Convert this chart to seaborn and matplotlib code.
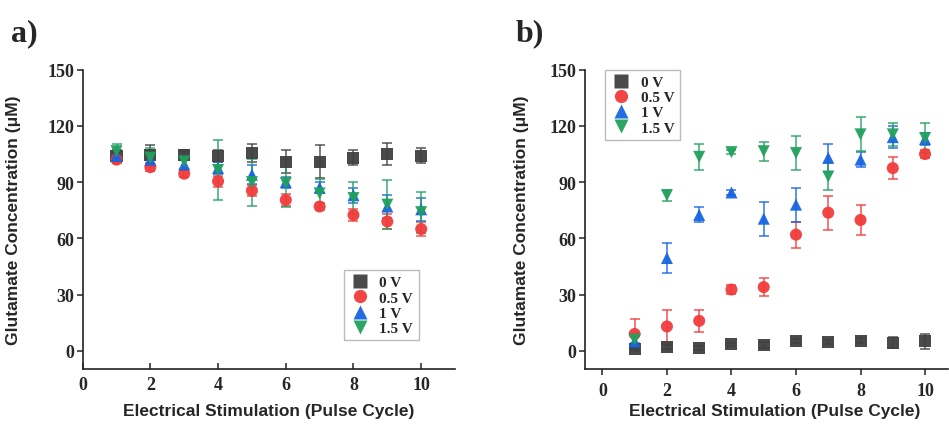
import numpy as np
import pandas as pd
import matplotlib
matplotlib.use("Agg")
import matplotlib.pyplot as plt
import seaborn as sns

# ---------------- data ----------------
cycles = [1, 2, 3, 4, 5, 6, 7, 8, 9, 10]
series = ["0 V", "0.5 V", "1 V", "1.5 V"]

# panel a
a_0V = [104, 104.5, 104.5, 104, 105.5, 101, 101, 103, 105, 104]
a_0V_err = [3, 5.5, 2.7, 3, 5, 6, 9, 4, 6, 4]
a_05V = [102, 98, 94.5, 90.5, 85.5, 80.5, 77, 72.5, 69, 65]
a_05V_err = [2, 2, 2, 3, 3, 3, 2, 3, 4, 3.5]
a_1V = [104, 102, 99.5, 97.5, 94, 90, 87, 83, 77, 75.5]
a_1V_err = [2, 3, 3, 3, 5, 3, 3, 4, 6, 6]
a_15V = [106.5, 103, 101, 96.5, 90, 89.5, 84, 81.5, 78, 74]
a_15V_err = [4, 5, 5, 16, 12.5, 13, 7.5, 8.5, 13, 11]

# panel b
b_0V = [1, 2, 1.6, 3.4, 3.2, 5.2, 4.6, 5.5, 4.3, 5.2]
b_0V_err = [1, 1, 1, 1, 1.5, 1, 1, 1.5, 3, 4]
b_05V = [9, 13, 16, 32.7, 34, 62, 73.7, 69.8, 97.5, 105]
b_05V_err = [8, 9, 6, 2.5, 5, 7, 9, 8, 6, 2]
b_1V = [5, 49.5, 72.5, 84.5, 70.5, 78, 103, 102, 114, 113]
b_1V_err = [4, 8, 4, 1.5, 9, 9, 7.5, 4, 6, 3]
b_15V = [6, 83, 103.5, 106, 106.5, 105.5, 93, 115.5, 115.5, 113.5]
b_15V_err = [2, 3, 7, 1, 5, 9, 7, 9, 6, 8]

y_ticks = [0, 30, 60, 90, 120, 150]
x_ticks = [0, 2, 4, 6, 8, 10]

colors = {"0 V": "#404040", "0.5 V": "#f23b3b", "1 V": "#1764e0", "1.5 V": "#21a15d"}
markers = {"0 V": "s", "0.5 V": "o", "1 V": "^", "1.5 V": "v"}


def make_df(vals, errs):
    rows = []
    for s, v, e in zip(series, vals, errs):
        for c, yv, ev in zip(cycles, v, e):
            rows.append({"cycle": c, "conc": yv, "err": ev, "V": s})
    return pd.DataFrame(rows)


df_a = make_df([a_0V, a_05V, a_1V, a_15V], [a_0V_err, a_05V_err, a_1V_err, a_15V_err])
df_b = make_df([b_0V, b_05V, b_1V, b_15V], [b_0V_err, b_05V_err, b_1V_err, b_15V_err])

sns.set_theme(style="white")
serif = ["Liberation Serif", "DejaVu Serif"]
plt.rcParams["font.family"] = serif
plt.rcParams["font.weight"] = "bold"
plt.rcParams["axes.labelweight"] = "bold"

fig = plt.figure(figsize=(9.49, 4.31), dpi=100)
ax_a = fig.add_axes([0.0871, 0.1415, 0.3924, 0.6945])
ax_b = fig.add_axes([0.6164, 0.1415, 0.3825, 0.6945])


def draw(ax, df, xlim, bottom_dir, leg_anchor):
    for s in series:
        d = df[df["V"] == s]
        ax.errorbar(d["cycle"], d["conc"], yerr=d["err"], fmt="none",
                    ecolor=colors[s], alpha=0.75, elinewidth=1.3,
                    capsize=3.5, capthick=1.3, zorder=2)
    sns.scatterplot(data=df, x="cycle", y="conc", hue="V", style="V",
                    palette=colors, markers=markers, hue_order=series,
                    style_order=series, s=75, edgecolor="none",
                    alpha=0.95, ax=ax, zorder=3, legend=True)
    ax.set_xlim(*xlim)
    ax.set_ylim(-9.7, 150)
    ax.set_xticks(x_ticks)
    ax.set_yticks(y_ticks)
    for sp in ["top", "right"]:
        ax.spines[sp].set_visible(False)
    for sp in ["left", "bottom"]:
        ax.spines[sp].set_color("#222222")
        ax.spines[sp].set_linewidth(1.2)
    ax.tick_params(axis="y", direction="out", length=4, width=1.1,
                   labelsize=13, color="#222222", left=True, pad=2)
    ax.tick_params(axis="x", direction=bottom_dir, length=4, width=1.1,
                   labelsize=13, color="#222222", bottom=True, pad=5)
    for lbl in ax.get_xticklabels() + ax.get_yticklabels():
        lbl.set_fontweight("bold")
    ax.set_xlabel("Electrical Stimulation (Pulse Cycle)", fontsize=12.5,
                  fontweight="bold", family=["Liberation Sans", "DejaVu Sans"])
    ax.set_ylabel("Glutamate Concentration (μM)", fontsize=12.5,
                  fontweight="bold", family=["Liberation Sans", "DejaVu Sans"])
    handles, labels = ax.get_legend_handles_labels()
    leg = ax.legend(handles, labels, loc="upper left", bbox_to_anchor=leg_anchor,
                    frameon=True, fancybox=False, edgecolor="#aaaaaa",
                    prop={"family": serif, "weight": "bold", "size": 11},
                    handletextpad=0.6, borderpad=0.35, labelspacing=0.1,
                    markerscale=1.1, handlelength=1.4)
    leg.get_frame().set_linewidth(1.0)


draw(ax_a, df_a, (0, 11), "in", (0.68, 0.355))
draw(ax_b, df_b, (-0.54, 10.71), "out", (0.035, 1.025))

# axis label positions
ax_a.yaxis.set_label_coords(-0.165, 0.5)
ax_b.yaxis.set_label_coords(-0.155, 0.5)
ax_a.xaxis.set_label_coords(0.5, -0.115)
ax_b.xaxis.set_label_coords(0.523, -0.115)

fig.text(0.012, 0.905, "a)", fontsize=23, fontweight="bold", family=serif)
fig.text(0.543, 0.905, "b)", fontsize=23, fontweight="bold", family=serif)

fig.savefig("out.png", dpi=100, facecolor="white")
